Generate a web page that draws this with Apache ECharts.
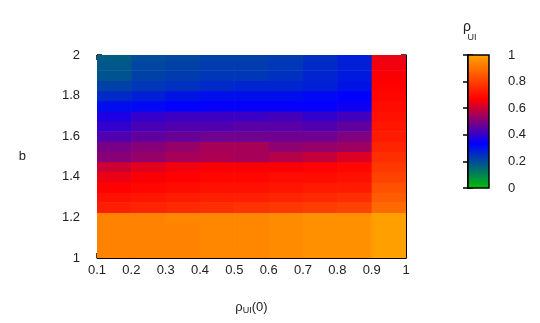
<!DOCTYPE html>
<html>
<head>
<meta charset="utf-8">
<script src="https://cdn.jsdelivr.net/npm/echarts@6/dist/echarts.min.js"></script>
<style>html,body{margin:0;padding:0;background:#fff}#c{width:540px;height:323px}</style>
</head>
<body>
<div id="c"></div>
<script>
// Column edges along rho_UI(0)
const rhoEdges = [0.1, 0.2, 0.3, 0.4, 0.5, 0.6, 0.7, 0.8, 0.9, 1.0];
// Row centres along b
const bValues = [1.00, 1.05, 1.10, 1.15, 1.20, 1.25, 1.30, 1.35, 1.40, 1.45, 1.50,
                 1.55, 1.60, 1.65, 1.70, 1.75, 1.80, 1.85, 1.90, 1.95, 2.00];
// rho_UI values, one row per b (ascending), one entry per rho_UI(0) column
const rhoUI = [
  [0.93,0.93,0.93,0.94,0.94,0.95,0.96,0.96,0.99],
  [0.93,0.93,0.93,0.94,0.94,0.95,0.96,0.96,0.99],
  [0.93,0.93,0.93,0.94,0.94,0.95,0.96,0.96,0.99],
  [0.93,0.93,0.93,0.94,0.94,0.95,0.96,0.96,0.99],
  [0.93,0.93,0.94,0.94,0.94,0.95,0.96,0.96,0.99],
  [0.73,0.74,0.75,0.76,0.77,0.78,0.79,0.80,0.88],
  [0.70,0.71,0.72,0.73,0.73,0.74,0.75,0.76,0.85],
  [0.67,0.68,0.69,0.70,0.70,0.71,0.72,0.72,0.83],
  [0.64,0.66,0.67,0.68,0.68,0.69,0.69,0.70,0.80],
  [0.60,0.63,0.65,0.66,0.66,0.66,0.67,0.68,0.78],
  [0.51,0.53,0.55,0.56,0.55,0.57,0.59,0.62,0.76],
  [0.49,0.51,0.53,0.55,0.55,0.52,0.53,0.54,0.74],
  [0.44,0.46,0.47,0.48,0.48,0.48,0.48,0.50,0.72],
  [0.40,0.43,0.44,0.44,0.45,0.45,0.44,0.46,0.71],
  [0.37,0.40,0.41,0.41,0.41,0.42,0.40,0.42,0.70],
  [0.31,0.32,0.33,0.34,0.34,0.34,0.34,0.35,0.69],
  [0.26,0.28,0.30,0.31,0.31,0.31,0.32,0.33,0.68],
  [0.22,0.24,0.25,0.26,0.27,0.27,0.28,0.30,0.67],
  [0.19,0.22,0.23,0.24,0.24,0.25,0.27,0.29,0.66],
  [0.18,0.21,0.22,0.23,0.23,0.24,0.26,0.28,0.65],
  [0.17,0.20,0.21,0.22,0.22,0.23,0.25,0.28,0.64]
];
const xTickLabels = ['0.1','0.2','0.3','0.4','0.5','0.6','0.7','0.8','0.9','1'];
const yTickLabels = ['1','1.2','1.4','1.6','1.8','2'];
const cbTickLabels = ['0','0.2','0.4','0.6','0.8','1'];
const paletteColors = ['#00c000', '#0000ff', '#ff0000', '#ffa500'];

const bMin = 1, bMax = 2;
const cells = [];
for (let r = 0; r < bValues.length; r++) {
  const lo = r === 0 ? bMin : (bValues[r - 1] + bValues[r]) / 2;
  const hi = r === bValues.length - 1 ? bMax : (bValues[r] + bValues[r + 1]) / 2;
  for (let c = 0; c < rhoEdges.length - 1; c++) {
    cells.push([rhoEdges[c], rhoEdges[c + 1], lo, hi, rhoUI[r][c]]);
  }
}

const FONT = 'Liberation Sans, Arial, sans-serif';
const TXT = '#222';
const chart = echarts.init(document.getElementById('c'), null, {renderer: 'canvas'});

function fmtX(v) { const i = Math.round((v - 0.1) / 0.1); return xTickLabels[i] !== undefined ? xTickLabels[i] : ''; }
function fmtY(v) { const i = Math.round((v - 1) / 0.2); return yTickLabels[i] !== undefined ? yTickLabels[i] : ''; }
function fmtC(v) { const i = Math.round(v / 0.2); return cbTickLabels[i] !== undefined ? cbTickLabels[i] : ''; }

const axisLine = {show: true, lineStyle: {color: '#000', width: 1}};
const tickIn = {show: true, inside: true, length: 5, lineStyle: {color: '#000', width: 1.5}};

chart.setOption({
  animation: false,
  backgroundColor: '#fff',
  textStyle: {fontFamily: FONT, color: TXT},
  grid: [
    {left: 97, right: 134, top: 55, bottom: 65},
    {left: 468, top: 55, width: 21, height: 133}
  ],
  xAxis: [
    {type: 'value', gridIndex: 0, min: 0.1, max: 1, interval: 0.1, position: 'bottom',
     axisLine, axisTick: tickIn, splitLine: {show: false},
     axisLabel: {formatter: fmtX, fontSize: 13, color: TXT, margin: 6, fontFamily: FONT},
     name: '{a|ρ}{s|UI}{a|(0)}', nameLocation: 'middle', nameGap: 42,
     nameTextStyle: {rich: {a: {fontSize: 13, color: TXT, fontFamily: FONT}, s: {fontSize: 9, color: TXT, fontFamily: FONT, padding: [6, 0, 0, 0]}}}},
    {type: 'value', gridIndex: 0, min: 0.1, max: 1, interval: 0.1, position: 'top',
     axisLine, axisTick: tickIn, axisLabel: {show: false}, splitLine: {show: false}},
    {type: 'value', gridIndex: 1, min: 0, max: 1, show: false}
  ],
  yAxis: [
    {type: 'value', gridIndex: 0, min: 1, max: 2, interval: 0.2, position: 'left',
     axisLine, axisTick: tickIn, splitLine: {show: false},
     axisLabel: {formatter: fmtY, fontSize: 13, color: TXT, margin: 17, fontFamily: FONT},
     name: 'b', nameLocation: 'middle', nameRotate: 0, nameGap: 71,
     nameTextStyle: {fontSize: 13, color: TXT, fontFamily: FONT}},
    {type: 'value', gridIndex: 0, min: 1, max: 2, interval: 0.2, position: 'right',
     axisLine, axisTick: tickIn, axisLabel: {show: false}, splitLine: {show: false}},
    {type: 'value', gridIndex: 1, min: 0, max: 1, interval: 0.2, position: 'right',
     axisLine: {show: true, lineStyle: {color: '#000', width: 1.5}},
     axisTick: {show: true, inside: true, length: 5, lineStyle: {color: '#000', width: 1.5}},
     axisLabel: {formatter: fmtC, fontSize: 13, color: TXT, margin: 19, fontFamily: FONT},
     splitLine: {show: false},
     name: '{a|ρ}\n{s|UI}', nameLocation: 'end', nameGap: 12,
     nameTextStyle: {align: 'center', padding: [0, 0, 0, -2], rich: {a: {fontSize: 14, color: TXT, fontFamily: FONT, lineHeight: 12}, s: {fontSize: 9, color: TXT, fontFamily: FONT, lineHeight: 10, padding: [0, 0, 0, 10]}}}},
    {type: 'value', gridIndex: 1, min: 0, max: 1, interval: 0.2, position: 'left',
     axisLine: {show: true, lineStyle: {color: '#000', width: 1.5}},
     axisTick: {show: true, inside: true, length: 5, lineStyle: {color: '#000', width: 1.5}},
     axisLabel: {show: false}, splitLine: {show: false}}
  ],
  visualMap: {
    show: false, type: 'continuous', min: 0, max: 1, dimension: 4, seriesIndex: 0,
    inRange: {color: paletteColors}
  },
  series: [
    {
      type: 'custom', xAxisIndex: 0, yAxisIndex: 0, data: cells, clip: true,
      encode: {x: [0, 1], y: [2, 3]},
      renderItem: function (params, api) {
        const p0 = api.coord([api.value(0), api.value(2)]);
        const p1 = api.coord([api.value(1), api.value(3)]);
        return {
          type: 'rect',
          shape: {x: p0[0], y: p1[1], width: p1[0] - p0[0] + 0.6, height: p0[1] - p1[1] + 0.6},
          style: {fill: api.visual('color'), stroke: null}
        };
      }
    },
    {
      type: 'custom', xAxisIndex: 2, yAxisIndex: 2, data: [[0, 1, 0, 1]],
      renderItem: function (params, api) {
        const p0 = api.coord([api.value(0), api.value(2)]);
        const p1 = api.coord([api.value(1), api.value(3)]);
        const stops = paletteColors.map(function (c, i) {
          return {offset: 1 - i / (paletteColors.length - 1), color: c};
        }).reverse();
        return {
          type: 'rect',
          shape: {x: p0[0], y: p1[1], width: p1[0] - p0[0], height: p0[1] - p1[1]},
          style: {fill: new echarts.graphic.LinearGradient(0, 0, 0, 1, stops), stroke: '#000', lineWidth: 1.5},
          z2: -1
        };
      }
    }
  ]
});
</script>
</body>
</html>
